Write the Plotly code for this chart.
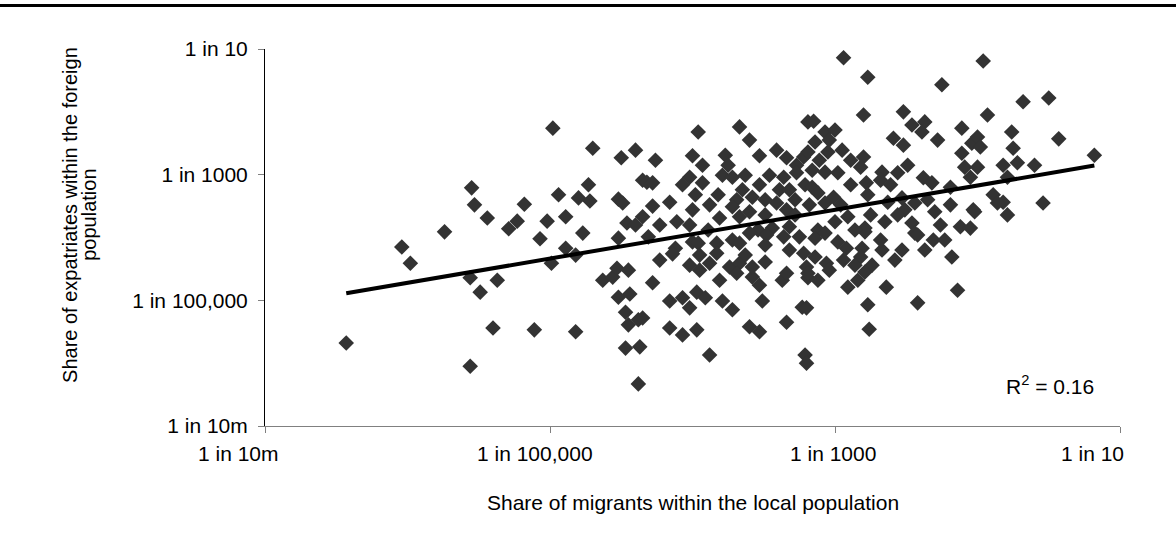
import numpy as np
import plotly.graph_objects as go

# log10 of the share of migrants within the local population (x)
migrant_share_log = [
    -6.43, -6.04, -5.98, -5.74, -5.56, -5.55, -5.53, -5.44, -5.29, -5.23,
    -5.18, -5.07, -5.02, -4.94, -4.89, -4.89, -4.80, -4.73, -4.72, -4.77,
    -4.52, -4.49, -4.52, -4.46, -4.40, -4.35, -4.35, -4.98, -4.70, -4.50,
    -4.40, -4.82, -4.99, -5.56, -5.37, -5.49, -5.40, -5.11, -4.82, -4.63,
    -4.56, -4.53, -4.45, -4.52, -4.44, -4.47, -4.45, -4.38, -4.47, -4.37,
    -4.38,
    -3.96, -3.67, -3.60, -4.00, -3.93, -3.53, -3.77, -4.02, -3.93, -4.32,
    -4.28, -4.28, -4.16, -3.98, -3.82, -4.00, -4.11, -4.31, -4.00, -4.12,
    -3.79, -3.69, -3.67, -3.58, -3.41, -3.34, -3.27, -3.36, -3.22, -3.19,
    -3.27, -3.39, -3.41, -3.34, -3.21, -3.54, -3.44, -3.32, -3.25, -3.72,
    -3.83, -3.89, -3.81, -3.72, -3.65, -3.72,
    -4.14, -4.02, -3.96, -4.28, -4.16, -4.07, -4.02, -3.97, -3.91, -3.79,
    -3.72, -3.51, -3.23, -4.35, -4.16, -4.07, -3.97, -3.60, -3.53, -3.34,
    -3.88, -3.21, -3.20, -3.88, -3.83, -3.74, -3.67, -3.67, -3.69, -3.58,
    -3.58, -3.49, -3.60, -3.48, -3.36, -3.37, -3.34, -3.20, -3.22, -3.19,
    -2.94, -2.77, -2.25, -2.80, -2.52, -3.15, -2.11, -1.96, -2.46, -2.37,
    -2.39, -2.28, -2.59, -2.52, -3.07, -3.00, -3.04, -3.14, -3.19, -3.05,
    -2.95, -2.80, -2.82, -2.67, -2.68, -2.78, -2.49, -2.56, -3.07, -2.98,
    -3.16, -3.16, -3.12, -3.01, -3.07, -2.38, -2.32, -2.19, -2.11, -2.04,
    -2.09, -2.05, -2.77, -2.63, -2.53, -2.51, -2.44, -2.35, -2.30, -2.75,
    -2.79, -2.91, -3.00, -3.12, -2.98, -2.65, -2.56, -2.46, -2.44, -2.31,
    -2.23, -2.12, -2.05, -2.03, -3.14,
    -3.07, -2.92, -2.81, -2.67, -2.53, -2.42, -2.79, -3.14, -3.06, -2.94,
    -2.82, -2.74, -2.79, -2.84, -2.91, -2.64, -3.12, -3.19, -2.18, -2.14,
    -2.77, -2.42, -3.20, -2.76,
    -1.68, -1.50, -1.93, -1.76, -2.00, -1.98, -1.43, -1.75, -2.00, -1.72,
    -1.82, -1.60, -1.79, -1.18, -1.89, -1.82, -1.86, -1.54, -2.02, -1.79,
    # dense core
    -3.75, -3.63, -3.53, -3.49, -3.46, -3.32, -3.28, -3.49, -3.60, -3.28,
    -3.18, -3.88, -4.07, -3.49, -3.32, -3.81, -3.95, -3.53, -3.63, -3.95,
    -2.89, -2.96, -2.86, -2.89, -3.11, -2.61, -2.68, -2.86, -3.04, -2.58,
    -2.26, -2.37, -2.19, -4.23, -4.23, -4.02, -4.26,
]

# log10 of the share of expatriates within the foreign population (y)
expatriate_share_log = [
    -5.68, -4.15, -4.41, -3.91, -6.05, -3.21, -3.48, -3.69, -3.86, -3.74,
    -3.47, -4.02, -3.74, -3.32, -3.67, -4.17, -3.37, -3.16, -3.42, -3.93,
    -3.39, -3.45, -4.01, -3.77, -3.80, -3.09, -3.67, -2.26, -2.58, -2.73,
    -2.61, -4.28, -4.41, -4.64, -4.68, -4.87, -5.44, -5.47, -5.50, -4.68,
    -4.63, -4.49, -4.52, -4.95, -4.90, -5.19, -5.39, -5.31, -5.76, -5.74,
    -6.33,
    -2.32, -2.24, -2.45, -2.70, -2.85, -2.70, -2.69, -3.04, -3.13, -3.12,
    -3.13, -3.50, -3.44, -3.32, -3.32, -3.56, -3.75, -3.99, -4.07, -4.17,
    -3.01, -3.40, -3.67, -3.36, -2.61, -2.73, -2.85, -3.04, -2.72, -2.16,
    -2.97, -3.24, -3.45, -3.56, -3.16, -3.88, -3.85, -3.83, -3.99, -4.04,
    -4.09, -3.88, -3.69, -3.51, -3.24, -3.04,
    -4.26, -4.44, -4.09, -4.72, -5.01, -4.96, -5.12, -4.87, -4.96, -5.01,
    -5.15, -5.01, -5.11, -5.28, -5.44, -5.55, -5.47, -5.42, -5.50, -5.35,
    -5.87, -5.87, -6.00, -4.41, -4.25, -4.47, -4.09, -4.41, -4.57, -4.63,
    -4.47, -4.39, -3.93, -3.96, -3.99, -4.68, -4.57, -4.47, -4.25, -4.64,
    -1.14, -1.45, -1.57, -2.05, -2.00, -2.15, -2.26, -1.19, -2.21, -2.16,
    -2.32, -2.45, -2.42, -2.53, -2.32, -2.29, -2.45, -2.48, -2.64, -2.64,
    -2.61, -2.72, -2.88, -2.96, -3.09, -3.13, -2.85, -2.97, -2.96, -2.97,
    -2.93, -3.20, -3.29, -3.36, -3.45, -3.05, -3.13, -3.20, -2.66, -2.50,
    -2.88, -3.04, -3.32, -3.44, -3.37, -3.56, -3.45, -3.40, -3.59, -3.64,
    -3.85, -3.67, -3.75, -3.88, -4.07, -3.75, -3.64, -3.77, -3.93, -4.04,
    -4.04, -3.83, -3.85, -3.56, -4.01,
    -3.93, -4.17, -4.17, -4.20, -4.20, -3.96, -3.91, -4.31, -4.41, -4.36,
    -4.31, -4.44, -4.55, -4.68, -4.79, -4.79, -4.68, -4.57, -4.31, -4.84,
    -5.07, -5.04, -5.12, -5.46,
    -1.84, -1.78, -2.05, -2.32, -2.40, -2.56, -2.43, -2.58, -2.88, -2.81,
    -2.85, -2.85, -3.04, -2.69, -3.32, -3.44, -3.45, -3.45, -3.59, -3.64,
    # dense core
    -2.85, -3.01, -3.16, -3.40, -3.01, -3.24, -3.40, -3.64, -3.59, -3.64,
    -3.48, -3.48, -3.16, -4.12, -4.20, -4.68, -4.52, -4.76, -4.28, -4.28,
    -3.16, -3.48, -3.88, -2.77, -2.77, -3.16, -4.04, -4.44, -4.52, -4.36,
    -3.80, -4.20, -3.48, -3.80, -4.36, -3.80, -2.77,
]

tick_values = [1e-7, 1e-5, 1e-3, 1e-1]
tick_labels = ["1 in 10m", "1 in 100,000", "1 in 1000", "1 in 10"]

# horizontal nudge (px) of each x-axis label relative to its tick
x_label_nudge = [-27, -15, -2, -28]

lx = np.array(migrant_share_log)
ly = np.array(expatriate_share_log)
x = 10 ** lx
y = 10 ** ly

# power-law trend line: straight line fitted in log-log space
slope, intercept = np.polyfit(lx, ly, 1)
trend_lx = np.array([lx.min(), lx.max()])
trend_y = 10 ** (intercept + slope * trend_lx)

FONT = "Liberation Sans, Arial, sans-serif"

fig = go.Figure()
fig.add_trace(go.Scatter(
    x=x, y=y, mode="markers",
    marker=dict(symbol="diamond", size=12, color="#333333", line=dict(width=0)),
    showlegend=False, hoverinfo="skip",
))
fig.add_trace(go.Scatter(
    x=10 ** trend_lx, y=trend_y, mode="lines",
    line=dict(color="#000000", width=4),
    showlegend=False, hoverinfo="skip",
))

axis_common = dict(
    type="log", range=[-7, -1],
    tickvals=tick_values, ticktext=tick_labels,
    ticks="outside", ticklen=6, tickwidth=1,
    showgrid=False, zeroline=False, showline=True, linewidth=1,
    tickfont=dict(family=FONT, size=21, color="#000000"),
)

annotations = [
    dict(text="Share of expatriates within the foreign", textangle=-90,
         xref="paper", yref="paper", x=-0.228, y=0.56,
         xanchor="center", yanchor="middle",
         showarrow=False, font=dict(family=FONT, size=20)),
    dict(text="population", textangle=-90,
         xref="paper", yref="paper", x=-0.206, y=0.56,
         xanchor="center", yanchor="middle",
         showarrow=False, font=dict(family=FONT, size=20)),
    dict(text="Share of migrants within the local population",
         xref="paper", yref="paper", x=0.5, y=-0.2016,
         xanchor="center", yanchor="middle",
         showarrow=False, font=dict(family=FONT, size=21)),
    dict(text="R<sup>2</sup> = 0.16",
         xref="paper", yref="paper", x=0.918, y=0.109,
         xanchor="center", yanchor="middle",
         showarrow=False, font=dict(family=FONT, size=21)),
]
# x-axis tick labels, placed under their ticks
for val, label, nudge in zip(tick_values, tick_labels, x_label_nudge):
    annotations.append(dict(
        text=label, xref="x", yref="paper", x=np.log10(val), y=0,
        xanchor="center", yanchor="top", xshift=nudge, yshift=-14,
        showarrow=False, font=dict(family=FONT, size=21, color="#000000"),
    ))

fig.update_layout(
    width=1176, height=553,
    margin=dict(l=265, r=56, t=49, b=127),
    paper_bgcolor="white", plot_bgcolor="white",
    font=dict(family=FONT, color="#000000"),
    xaxis=dict(**axis_common, linecolor="#808080", tickcolor="#808080",
               showticklabels=False),
    yaxis=dict(**axis_common, linecolor="#000000", tickcolor="#808080",
               ticklabelstandoff=6),
    annotations=annotations,
    shapes=[
        dict(type="line", xref="paper", yref="paper",
             x0=-0.31, x1=1.066, y0=1.1155, y1=1.1155,
             line=dict(color="#000000", width=3)),
    ],
)

fig.write_html("out.html")
